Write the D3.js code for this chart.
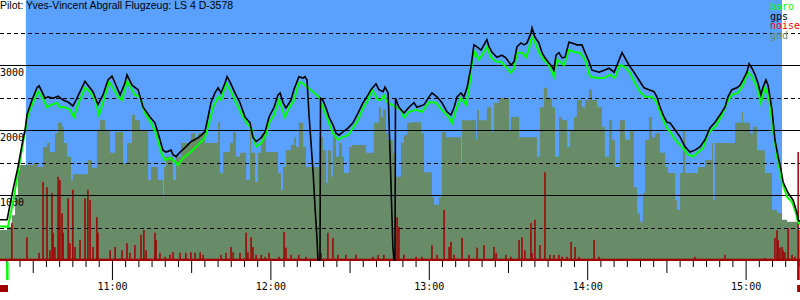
<!DOCTYPE html>
<html lang="de">
<head>
<meta charset="UTF-8">
<title>Barogramm</title>
<script src="https://d3js.org/d3.v7.min.js"></script>
<style>
    *{padding:0; margin:0;}
    body{background:#fff;}
    svg{display:block;}
    .mono{font-family:"DejaVu Sans Mono", monospace; font-size:10px;}
    .title{font-family:"Liberation Sans", Arial, sans-serif; font-size:10.5px;}
</style>
</head>
<body>
<script>
// all times are minutes after 10:00, heights in metres
const timeSpan = [17.6, 320.6];
const flightWindow = [27.4, 313.8];
const takeoff = 20.3, landing = 319.9;

const gpsTrack = [[17.6,620],[20.3,620],[21.4,850],[22.5,1080],[24.4,1430],[26.3,1850],[27.1,2000],[27.8,2230],[29.7,2460],[31.6,2650],[32.4,2680],[33.5,2590],[34.6,2490],[35.8,2510],[37.7,2490],[39.6,2520],[41.5,2460],[43.4,2430],[45.2,2370],[46.4,2460],[47.9,2590],[49.8,2750],[50.9,2690],[52.8,2590],[54.7,2390],[56.6,2540],[58.5,2770],[60.0,2830],[61.2,2720],[63.1,2540],[64.9,2720],[65.7,2850],[67.6,2690],[69.9,2620],[71.8,2350],[74.4,2200],[76.3,2110],[78.2,1850],[79.3,1690],[80.5,1660],[82.4,1690],[83.1,1620],[84.3,1590],[85.8,1660],[88.0,1740],[89.9,1820],[92.6,1880],[95.2,1970],[96.4,2200],[97.5,2420],[99.0,2570],[100.2,2650],[101.3,2570],[102.8,2720],[103.6,2820],[104.7,2740],[106.6,2570],[108.5,2420],[110.4,2200],[112.3,2110],[113.4,1890],[114.6,1820],[116.5,1880],[118.0,1970],[119.5,2200],[121.4,2350],[122.9,2540],[123.7,2570],[124.8,2420],[125.9,2340],[127.8,2460],[128.9,2620],[130.8,2820],[132.4,2800],[133.1,2820],[133.9,2770],[134.6,2260],[136.2,1340],[136.9,820],[137.7,310],[138.0,0],[138.8,0],[139.0,2490],[139.9,2460],[141.1,2340],[142.2,2200],[143.7,2080],[144.9,1950],[146.0,1920],[147.5,1970],[149.4,2030],[151.3,2110],[153.2,2260],[155.1,2420],[157.0,2540],[158.1,2620],[160.0,2710],[161.1,2620],[162.7,2590],[163.4,2660],[164.6,2570],[165.3,1690],[166.4,200],[166.8,0],[167.2,0],[167.4,2490],[168.7,2350],[170.6,2260],[172.5,2350],[174.4,2420],[175.5,2350],[178.2,2390],[180.1,2510],[181.2,2570],[183.1,2510],[185.0,2420],[186.9,2280],[188.4,2230],[189.6,2350],[190.7,2510],[192.2,2570],[193.3,2510],[194.5,2650],[196.0,2970],[197.1,3310],[198.3,3280],[199.8,3230],[200.9,3310],[202.0,3390],[202.8,3280],[203.9,3200],[205.8,3120],[207.7,3150],[209.2,3110],[211.1,3000],[212.3,3050],[213.4,3280],[214.9,3340],[216.1,3310],[217.2,3340],[218.7,3490],[219.1,3570],[220.2,3430],[221.7,3340],[222.9,3190],[224.0,3110],[225.5,3030],[226.7,2970],[227.4,2920],[228.2,3150],[229.3,3190],[230.5,3110],[231.6,3120],[233.1,3350],[234.2,3340],[236.1,3310],[238.0,3310],[239.2,3190],[240.7,3050],[241.8,2920],[244.5,2890],[246.4,2920],[248.3,2950],[250.2,2890],[251.3,3000],[253.2,3190],[254.3,3110],[255.8,3000],[257.7,2890],[259.6,2770],[261.5,2650],[263.4,2620],[265.3,2590],[266.4,2510],[267.6,2350],[269.1,2200],[270.2,2120],[271.4,2110],[273.3,2000],[275.2,1890],[277.1,1740],[278.9,1660],[280.8,1690],[282.7,1740],[284.6,1850],[286.5,2030],[288.4,2120],[290.3,2230],[292.2,2350],[293.3,2510],[294.8,2620],[296.7,2650],[297.9,2690],[299.0,2770],[300.5,2890],[301.3,3020],[302.4,2950],[303.6,2850],[304.7,2720],[305.8,2540],[306.6,2660],[307.7,2770],[308.5,2690],[310.0,2310],[311.1,1850],[312.3,1590],[313.4,1390],[314.2,1200],[316.1,1030],[318.0,920],[319.5,720],[319.9,620],[320.6,590]];

const baroTrack = [[17.6,520],[20.6,510],[22.5,880],[24.4,1340],[26.3,1800],[27.4,2050],[28.2,2230],[30.1,2420],[32.0,2590],[33.5,2510],[35.4,2350],[37.3,2390],[39.2,2420],[40.3,2350],[42.2,2350],[44.1,2310],[45.6,2200],[47.1,2390],[49.8,2650],[51.7,2590],[53.6,2460],[55.1,2230],[56.6,2420],[58.9,2740],[60.4,2650],[62.3,2510],[63.8,2460],[65.7,2750],[67.6,2620],[68.7,2540],[70.6,2510],[72.5,2260],[74.8,2110],[76.7,1950],[78.6,1660],[80.1,1540],[82.0,1570],[83.9,1510],[85.0,1460],[86.9,1570],[89.6,1650],[92.6,1770],[95.2,1880],[96.8,2110],[98.3,2350],[100.2,2510],[101.3,2460],[103.2,2720],[105.1,2590],[107.0,2420],[108.9,2260],[111.5,2080],[112.7,2030],[114.6,1740],[116.5,1800],[118.0,1890],[119.5,2110],[121.4,2230],[123.3,2460],[124.8,2280],[125.5,2200],[127.1,2340],[128.9,2460],[130.8,2720],[131.6,2740],[138.4,2510],[139.9,2350],[141.1,2230],[142.2,2110],[143.7,1950],[145.6,1850],[146.8,1880],[149.4,1920],[151.3,2030],[153.2,2150],[155.1,2340],[157.0,2460],[158.5,2620],[160.8,2460],[161.9,2460],[163.0,2540],[164.2,2430],[169.5,2310],[170.6,2190],[172.5,2280],[175.2,2310],[177.4,2280],[180.1,2430],[182.7,2420],[185.0,2310],[187.7,2190],[188.8,2110],[190.3,2310],[192.2,2490],[194.1,2390],[195.2,2620],[196.4,3050],[197.5,3200],[199.0,3080],[200.9,3200],[202.0,3280],[203.6,3120],[205.5,3050],[207.4,3050],[209.2,2970],[211.1,2880],[212.3,2950],[213.4,3190],[215.3,3190],[216.8,3120],[218.0,3260],[219.1,3430],[220.2,3350],[221.7,3200],[223.6,3080],[225.5,3000],[227.4,2820],[228.6,3080],[229.7,3050],[231.2,3000],[233.1,3230],[235.0,3200],[237.3,3190],[239.2,3080],[241.1,2820],[243.7,2800],[246.4,2800],[248.6,2850],[250.5,2800],[252.4,3000],[254.3,2970],[256.2,2880],[258.1,2720],[260.0,2590],[261.9,2510],[264.5,2510],[266.4,2420],[268.3,2200],[270.2,2030],[271.4,1970],[273.3,1850],[275.9,1740],[278.2,1620],[280.1,1590],[282.0,1660],[283.9,1720],[285.8,1950],[288.4,2050],[291.1,2230],[292.9,2420],[294.8,2540],[297.1,2570],[299.0,2690],[300.9,2890],[302.4,2820],[304.3,2660],[305.8,2420],[307.3,2650],[308.8,2510],[310.4,2000],[311.9,1590],[313.8,1200],[315.7,970],[317.6,890],[319.1,720],[319.9,570],[320.6,550]];

// gnd as steps: [start minute, value]
const gndSteps = [[17.6,460],[20.3,510],[22.1,690],[23.3,1000],[24.4,1390],[25.2,1460],[30.1,1490],[32.0,1430],[33.9,1740],[35.4,1800],[36.5,1660],[38.4,1950],[39.6,2110],[41.1,2050],[41.8,1800],[43.0,1590],[44.5,1230],[45.2,1320],[50.9,1540],[52.4,1420],[54.3,2000],[55.5,2150],[57.4,2000],[59.3,1650],[61.2,1970],[64.2,1490],[65.7,1800],[67.6,2230],[68.7,2150],[70.6,2000],[73.7,1230],[74.8,1430],[77.4,1230],[79.3,970],[79.7,1430],[80.5,1590],[83.1,1230],[84.3,1590],[86.2,1800],[89.9,1950],[91.5,1850],[92.6,1950],[95.2,1800],[100.2,2120],[100.9,1340],[102.1,1660],[104.7,1800],[105.9,1970],[107.0,1590],[108.5,1650],[110.8,1230],[112.3,2000],[112.7,1650],[114.2,1200],[115.3,1650],[116.5,1950],[118.3,1660],[122.9,1340],[124.0,1080],[124.8,1430],[125.9,1690],[127.8,1770],[129.0,1880],[129.7,1740],[130.8,2110],[132.4,1740],[133.5,1430],[138.4,1890],[139.9,1690],[141.1,1190],[141.8,1690],[143.0,1280],[143.7,1950],[144.9,1590],[146.0,1800],[147.1,1590],[147.9,1340],[149.8,1740],[150.9,1770],[156.2,1650],[159.2,2110],[161.1,2350],[161.9,2200],[162.7,2310],[163.8,1950],[164.6,1850],[166.4,1650],[167.6,1280],[169.5,1800],[170.6,1920],[171.8,2110],[173.3,2120],[177.1,1950],[178.2,1350],[181.2,970],[182.0,850],[183.9,970],[185.0,1970],[186.5,1890],[192.2,1490],[192.6,2150],[197.9,1850],[198.3,2310],[199.0,2150],[202.0,2350],[203.6,1970],[204.7,2420],[206.6,2490],[210.4,2000],[211.1,2200],[214.2,1890],[221.0,1590],[222.1,2350],[223.6,2650],[224.8,2490],[226.7,2350],[227.8,1590],[229.3,2200],[230.5,2150],[232.4,1740],[233.5,2000],[235.0,2200],[236.1,2460],[238.0,2350],[239.2,2460],[240.7,2620],[241.8,2460],[243.7,2350],[245.6,2050],[246.7,1590],[248.3,2150],[249.4,1850],[250.5,1430],[252.4,2150],[254.3,1850],[256.2,2000],[257.7,1120],[258.9,720],[260.0,590],[261.1,1030],[261.9,1850],[263.4,2200],[264.5,1890],[265.7,1950],[267.6,1650],[269.5,1430],[270.6,1340],[273.3,920],[274.0,770],[275.2,1340],[276.3,2000],[277.1,1340],[282.0,1430],[284.6,1540],[287.3,1800],[287.7,920],[288.4,1800],[296.0,2110],[298.6,2280],[299.0,2110],[301.7,1950],[302.8,2050],[304.3,1690],[307.3,1340],[310.0,770],[311.9,720],[313.8,620],[315.7,590],[319.9,460],[320.6,460]];

// engine noise spikes: [minute, value]
const noiseFloor = 20;
const noiseSpikes = [[22.1,570],[27.8,350],[32.4,110],[33.9,1200],[35.4,1120],[36.5,150],[37.3,1030],[37.7,420],[38.4,200],[39.6,1280],[40.3,1230],[41.1,720],[41.5,420],[43.4,950],[44.1,260],[45.2,1080],[46.0,200],[47.9,310],[49.8,950],[50.9,1080],[51.7,920],[52.8,200],[54.3,660],[54.7,420],[59.3,150],[61.2,200],[63.8,150],[65.7,260],[66.8,110],[68.7,230],[71.0,390],[72.1,460],[72.9,150],[76.3,420],[76.7,310],[78.2,110],[80.1,50],[82.0,80],[83.1,120],[85.8,110],[88.0,110],[89.9,120],[91.5,110],[93.4,120],[94.5,80],[101.3,80],[103.2,110],[105.1,200],[105.9,120],[108.5,110],[110.8,420],[111.5,120],[112.7,350],[113.4,200],[114.6,80],[116.5,80],[118.0,50],[119.5,110],[123.3,50],[125.2,430],[125.9,190],[127.8,80],[130.8,80],[133.5,50],[138.0,80],[139.2,110],[141.8,420],[143.7,340],[145.6,80],[148.6,80],[152.4,80],[158.9,50],[160.8,80],[163.0,80],[166.8,30],[168.0,660],[168.7,510],[170.6,80],[175.2,50],[177.4,50],[181.2,230],[183.1,80],[185.8,770],[187.7,200],[188.4,280],[189.6,80],[192.6,340],[195.2,80],[198.3,190],[200.9,230],[204.7,200],[205.5,110],[209.2,80],[211.1,50],[214.2,310],[215.3,350],[216.4,150],[218.7,570],[219.1,110],[220.2,620],[222.1,230],[224.0,1350],[225.9,80],[227.4,80],[229.3,80],[230.5,50],[232.4,50],[233.9,280],[235.4,200],[236.9,50],[242.6,310],[244.5,50],[254.3,20],[280.8,50],[292.2,80],[307.3,30],[311.1,340],[311.9,460],[312.3,310],[313.0,190],[313.8,200],[314.2,150],[314.9,120],[316.1,490],[317.6,80],[318.7,50],[319.9,1660]];

const hourLabels = ['11:00', '12:00', '13:00', '14:00', '15:00'];
const altLabels = [1000, 2000, 3000];
const gridSolid = [1000, 2000, 3000];
const gridDashed = [500, 1500, 2500, 3500];
const legendNames = ['baro', 'gps', 'noise', 'gnd'];
const titleText = 'Pilot: Yves-Vincent Abgrall Flugzeug: LS 4 D-3578';

const colors = {baro:'#00ff00', gps:'#000000', noise:'#ff0000', gnd:'#688c68', sky:'#5aa0ff', noiseBar:'#a00000'};

const W = 800, H = 300, base = 260;
let svg = d3.select('body').append('svg').attr('width', W).attr('height', H);

let x = d3.scaleLinear().domain(timeSpan).range([0, W]);
let y = d3.scaleLinear().domain([0, 4000]).range([base, 0]);

// blue block for the flight window
svg.append('rect')
    .attr('x', x(flightWindow[0])).attr('y', 0)
    .attr('width', x(flightWindow[1]) - x(flightWindow[0]))
    .attr('height', base)
    .attr('fill', colors.sky);

// gnd area
let gndArea = d3.area().curve(d3.curveStepAfter)
    .x(d => x(d[0])).y0(base).y1(d => y(d[1]));
svg.append('path').datum(gndSteps).attr('d', gndArea).attr('fill', colors.gnd);

// noise bars + floor
svg.append('rect')
    .attr('x', 0).attr('y', y(noiseFloor))
    .attr('width', W).attr('height', base + 1 - y(noiseFloor))
    .attr('fill', colors.noiseBar);
svg.append('g').selectAll('rect').data(noiseSpikes).enter().append('rect')
    .attr('x', d => x(d[0]) - 0.75)
    .attr('y', d => y(d[1]))
    .attr('width', 1.5)
    .attr('height', d => base - y(d[1]))
    .attr('fill', colors.noiseBar);

// grid
svg.append('g').selectAll('line').data(gridSolid).enter().append('line')
    .attr('x1', 0).attr('x2', W)
    .attr('y1', d => y(d) + 0.5).attr('y2', d => y(d) + 0.5)
    .attr('stroke', '#000').attr('stroke-width', 1);
svg.append('g').selectAll('line').data(gridDashed).enter().append('line')
    .attr('x1', 0).attr('x2', W)
    .attr('y1', d => Math.round(y(d)) + 0.5).attr('y2', d => Math.round(y(d)) + 0.5)
    .attr('stroke', '#000').attr('stroke-width', 1)
    .attr('stroke-dasharray', '4,3');

// altitude labels sit just under their line
svg.append('g').selectAll('text').data(altLabels).enter().append('text')
    .attr('class', 'mono')
    .attr('x', 0).attr('y', d => y(d) + 11)
    .text(d => d);

// baro then gps on top
let line = d3.line().x(d => x(d[0])).y(d => y(d[1]));
svg.append('path').datum(baroTrack).attr('d', line)
    .attr('fill', 'none').attr('stroke', colors.baro).attr('stroke-width', 2);
svg.append('path').datum(gpsTrack).attr('d', line)
    .attr('fill', 'none').attr('stroke', colors.gps).attr('stroke-width', 1.6);

// time axis: 5 min, 30 min and hour ticks
let toMin = s => (+s.split(':')[0] - 10) * 60 + (+s.split(':')[1]);
let hourVals = hourLabels.map(toMin);
let fiveVals = d3.range(20, timeSpan[1], 5).filter(v => v % 30 !== 0);
let halfVals = d3.range(30, timeSpan[1], 60);

function tickAxis(vals, size, fmt) {
    let g = svg.append('g').attr('transform', 'translate(0,' + (base + 1) + ')')
        .call(d3.axisBottom(x).tickValues(vals).tickSize(size).tickPadding(3).tickFormat(fmt));
    g.select('.domain').remove();
    g.selectAll('line').attr('stroke', '#000');
    g.selectAll('text').attr('class', 'mono').attr('fill', '#000')
        .attr('font-family', null).attr('font-size', null);
    return g;
}
tickAxis(fiveVals, 6, '');
tickAxis(halfVals, 12, '');
tickAxis(hourVals, 19, (d, i) => hourLabels[i]);

// takeoff / landing markers below the axis
svg.append('rect').attr('x', x(takeoff) - 1).attr('y', base + 2)
    .attr('width', 2.5).attr('height', 18).attr('fill', colors.baro);
svg.append('rect').attr('x', x(landing) - 1).attr('y', base + 1)
    .attr('width', 2.5).attr('height', 19).attr('fill', colors.noiseBar);
svg.append('rect').attr('x', x(timeSpan[0])).attr('y', base + 25)
    .attr('width', 8).attr('height', 7).attr('fill', colors.noiseBar);
svg.append('rect').attr('x', x(landing) - 1).attr('y', base + 25)
    .attr('width', 8).attr('height', 7).attr('fill', colors.noiseBar);

// legend top right
svg.append('g').selectAll('text').data(legendNames).enter().append('text')
    .attr('class', 'mono')
    .attr('x', 770).attr('y', (d, i) => 10 + i * 9.7)
    .attr('fill', d => d === 'noise' ? colors.noise : colors[d])
    .text(d => d);

// title
svg.append('text').attr('class', 'title')
    .attr('x', 0).attr('y', 9)
    .text(titleText);
</script>
</body>
</html>
